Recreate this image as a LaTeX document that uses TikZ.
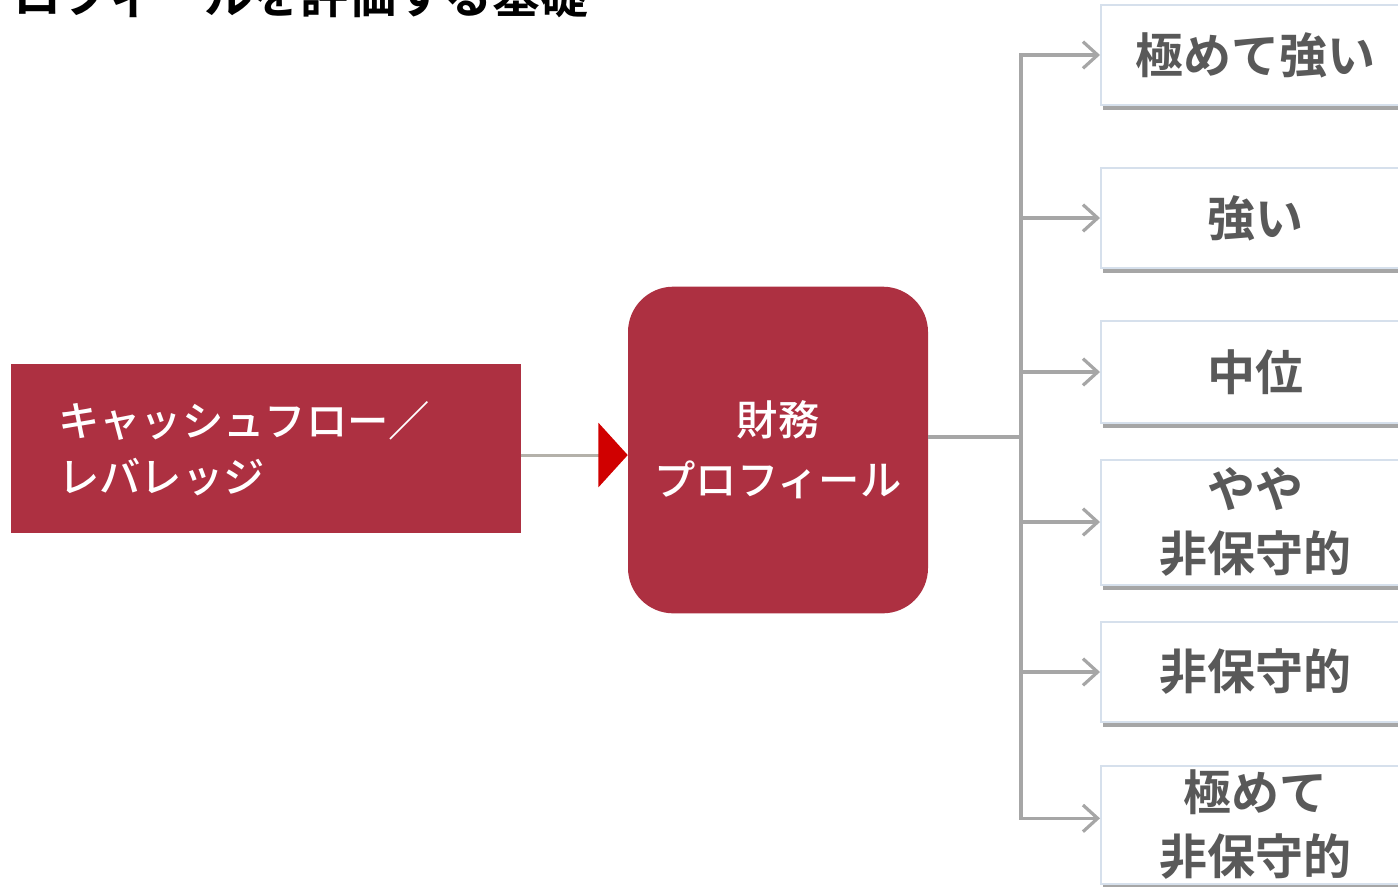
\documentclass[tikz,border=0pt]{standalone}
\usepackage{fontspec}
\setmainfont{Noto Sans CJK JP}[BoldFont={Noto Sans CJK JP Bold}]
\newfontfamily\jpmedium{Noto Sans CJK JP Medium}
\usetikzlibrary{arrows.meta,shadows}
\definecolor{cfred}{HTML}{AD3041}
\definecolor{tipred}{HTML}{D00000}
\definecolor{linkgray}{HTML}{B4B1AA}
\definecolor{linegray}{HTML}{A6A6A6}
\definecolor{textgray}{HTML}{595959}
\definecolor{edgeblue}{HTML}{D6E0EC}

\begin{document}
\begin{tikzpicture}[x=0.75pt,y=-0.75pt]
	% Styles
	\tikzset{redbox/.style={fill=cfred, text=white, font=\jpmedium\fontsize{31pt}{42pt}\selectfont}}
	\tikzset{gradebox/.style={draw=edgeblue, line width=1.5pt, fill=white, minimum width=231pt, inner sep=0pt, text=textgray, align=center, font=\bfseries\fontsize{36pt}{48pt}\selectfont, drop shadow={shadow xshift=1.5pt, shadow yshift=-4pt, fill=black, opacity=0.35}}}
	\tikzset{branch/.style={draw=linegray, line width=2.4pt, -{Straight Barb[length=11pt, width=20pt]}}}

	\useasboundingbox (0,0) rectangle (1398,886);
	\clip (0,0) rectangle (1398,886);

	% Title, cut off at the top
	\node [anchor=base west, inner sep=0pt, font=\bfseries\fontsize{36pt}{36pt}\selectfont] (title) at (-35,13) {プロフィールを評価する基礎};

	% Input and profile
	\node [redbox, text width=312pt, align=left, inner xsep=35pt, inner ysep=0pt, minimum height=126.75pt] (cf) at (266,448.5) {キャッシュフロー／\\レバレッジ};
	\node [redbox, rounded corners=34pt, align=center, minimum width=225pt, minimum height=245pt, font=\jpmedium\fontsize{31pt}{45pt}\selectfont] (mid) at (778,450) {財務\\プロフィール};

	\coordinate (cfout) at ([yshift=-4.9pt]cf.east);
	\draw [linkgray, line width=2.25pt, -{Triangle[length=22pt, width=48pt, color=tipred]}] (cfout) -- (cfout -| mid.west);

	% Grades
	\node [gradebox, minimum height=75pt] (g1) at (1255,55) {極めて強い};
	\node [gradebox, minimum height=75pt] (g2) at (1255,218) {強い};
	\node [gradebox, minimum height=76pt] (g3) at (1255,372) {中位};
	\node [gradebox, minimum height=93.75pt] (g4) at (1255,522) {やや\\非保守的};
	\node [gradebox, minimum height=88.5pt] (g6) at (1255,825) {極めて\\非保守的};
	\node [gradebox, minimum height=75pt] (g5) at (1255,672) {非保守的};

	% Tree of arrows
	\coordinate (midout) at ([yshift=9.75pt]mid.east);
	\coordinate (trunk) at (1021,437);
	\draw [linegray, line width=2.4pt] (midout) -- (trunk);
	\draw [branch] (trunk) |- (g1.west);
	\draw [branch] (trunk) |- ([yshift=5pt]g6.west);
	\draw [branch] (trunk |- g2.west) -- (g2.west);
	\draw [branch] (trunk |- g3.west) -- (g3.west);
	\draw [branch] (trunk |- g4.west) -- (g4.west);
	\draw [branch] (trunk |- g5.west) -- (g5.west);

\end{tikzpicture}
\end{document}
